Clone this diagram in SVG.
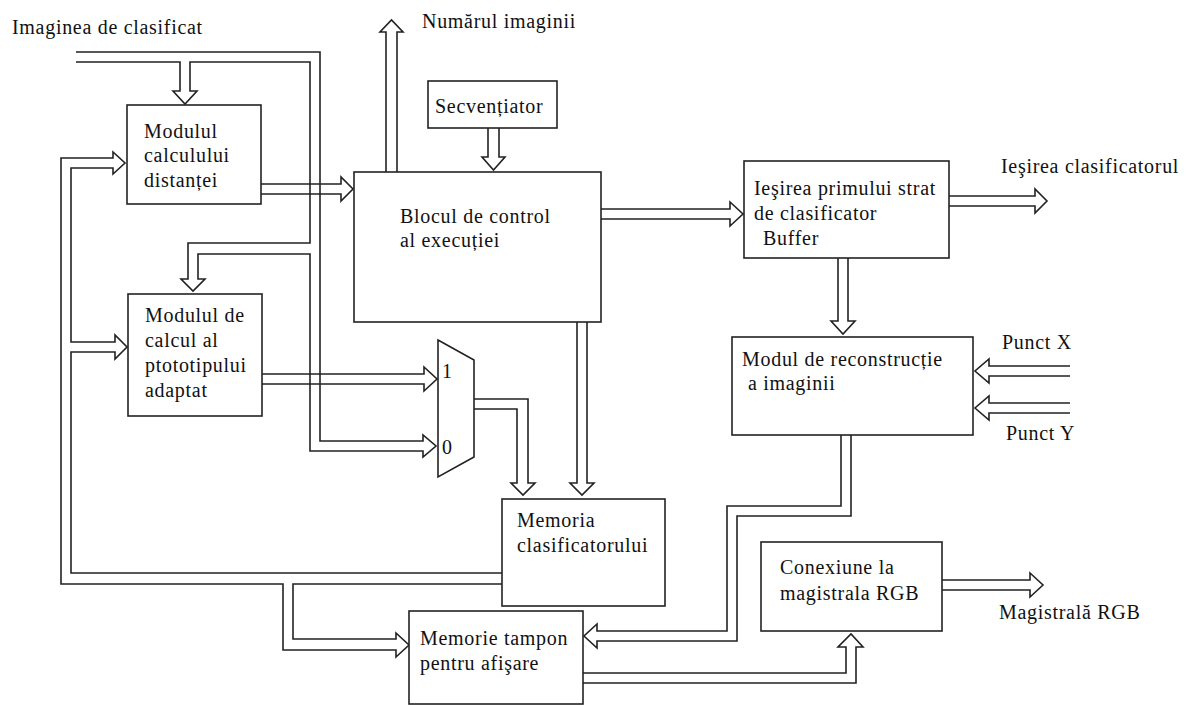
<svg xmlns="http://www.w3.org/2000/svg" width="1189" height="705" viewBox="0 0 1189 705">
  <style>
    .bus { fill: none; stroke: #222; stroke-width: 1.6; stroke-linejoin: miter; }
    .box { fill: #fff; stroke: #222; stroke-width: 1.6; }
    text { font-family: "Liberation Serif", "Times New Roman", serif; font-size: 20px; fill: #111; letter-spacing: 0.7px; }
  </style>
  <rect width="1189" height="705" fill="#fff"/>

  <!-- double-line bus connectors with hollow block arrowheads -->
  <g id="connectors">
    <!-- input image bus: feeds distance module, prototype module and mux input 0 -->
    <path class="bus" d="M76,52 H320 V441 H423 V435 L436,446 L423,457 V451 H310 V254 H198 V279 H205 L193,291 L181,279 H188 V243 H310 V62 H190 V91 H197 L185,104 L173,91 H180 V62 H76"/>
    <!-- classifier memory feedback bus -->
    <path class="bus" d="M502,573 H71 V352 H115 V359 L127,347 L115,335 V342 H71 V168 H113 V174 L125,163 L113,152 V158 H61 V584 H283 V650 H396 V657 L409,645 L396,633 V639 H293 V584 H502"/>
    <!-- distance module to control block -->
    <path class="bus" d="M261,184 H341 V177 L353,189 L341,201 V194 H261"/>
    <!-- prototype module to mux input 1 -->
    <path class="bus" d="M262,374 H424 V367 L437,379 L424,391 V384 H262"/>
    <!-- image number output -->
    <path class="bus" d="M386,172 V32 H380 L391.5,20 L403,32 H397 V172"/>
    <!-- sequencer to control block -->
    <path class="bus" d="M488,128 V157 H482 L493.5,170 L505,157 H499 V128"/>
    <!-- control block to first layer output buffer -->
    <path class="bus" d="M601,209 H730 V202 L743,214 L730,226 V219 H601"/>
    <!-- classifier output -->
    <path class="bus" d="M949,196 H1035 V189 L1047,201 L1035,213 V206 H949"/>
    <!-- buffer to reconstruction module -->
    <path class="bus" d="M838,258 V321 H831 L843,334 L855,321 H848 V258"/>
    <!-- point X / point Y inputs -->
    <path class="bus" d="M1070,366 H989 V359 L975,371 L989,383 V376 H1070"/>
    <path class="bus" d="M1070,403 H989 V396 L975,408 L989,420 V413 H1070"/>
    <!-- reconstruction module to display buffer -->
    <path class="bus" d="M841,435 V506 H727 V631 H597 V624 L584,636 L597,648 V641 H737 V516 H851 V435"/>
    <!-- mux output to classifier memory -->
    <path class="bus" d="M474,399 H528 V483 H535 L523,495 L511,483 H517 V409 H474"/>
    <!-- control block to classifier memory -->
    <path class="bus" d="M577,322 V483 H570 L582,495 L594,483 H587 V322"/>
    <!-- display buffer to RGB bus connection -->
    <path class="bus" d="M583,673 H846 V647 H838 L851,634 L863,647 H856 V683 H583"/>
    <!-- RGB bus output -->
    <path class="bus" d="M942,580 H1030 V573 L1043,585 L1030,597 V590 H942"/>
  </g>

  <!-- free labels -->
  <g id="labels">
    <text x="12" y="34">Imaginea de clasificat</text>
    <text x="422" y="28">Numărul imaginii</text>
    <text x="1001" y="173">Ieşirea clasificatorul</text>
    <text x="1002" y="349">Punct X</text>
    <text x="1006" y="440">Punct Y</text>
    <text x="999" y="619">Magistrală RGB</text>
  </g>

  <g id="modul-distanta">
    <rect class="box" x="127" y="105" width="134" height="99"/>
    <text x="144" y="138">Modulul</text>
    <text x="144" y="162">calculului</text>
    <text x="144" y="187">distanței</text>
  </g>

  <g id="modul-prototip">
    <rect class="box" x="128" y="294" width="134" height="122"/>
    <text x="145" y="322">Modulul de</text>
    <text x="145" y="347">calcul al</text>
    <text x="145" y="372">ptototipului</text>
    <text x="145" y="397">adaptat</text>
  </g>

  <g id="secventiator">
    <rect class="box" x="428" y="81" width="129" height="47"/>
    <text x="435" y="113">Secvențiator</text>
  </g>

  <g id="bloc-control">
    <rect class="box" x="354" y="172" width="247" height="150"/>
    <text x="400" y="223">Blocul de control</text>
    <text x="400" y="247">al execuției</text>
  </g>

  <g id="iesire-strat">
    <rect class="box" x="744" y="161" width="205" height="97"/>
    <text x="754" y="195">Ieşirea primului strat</text>
    <text x="754" y="220">de clasificator</text>
    <text x="763" y="245">Buffer</text>
  </g>

  <g id="reconstructie">
    <rect class="box" x="732" y="337" width="241" height="98"/>
    <text x="742" y="366">Modul de reconstrucție</text>
    <text x="748" y="390">a imaginii</text>
  </g>

  <g id="mux">
    <polygon class="box" points="438,340 474,360 474,457 438,477"/>
    <text x="442" y="378">1</text>
    <text x="442" y="454">0</text>
  </g>

  <g id="memoria-clasificator">
    <rect class="box" x="502" y="499" width="163" height="107"/>
    <text x="517" y="527">Memoria</text>
    <text x="517" y="552">clasificatorului</text>
  </g>

  <g id="memorie-tampon">
    <rect class="box" x="409" y="611" width="174" height="93"/>
    <text x="420" y="645">Memorie tampon</text>
    <text x="420" y="670">pentru afişare</text>
  </g>

  <g id="conexiune-rgb">
    <rect class="box" x="761" y="542" width="181" height="89"/>
    <text x="780" y="574">Conexiune la</text>
    <text x="780" y="600">magistrala RGB</text>
  </g>
</svg>
